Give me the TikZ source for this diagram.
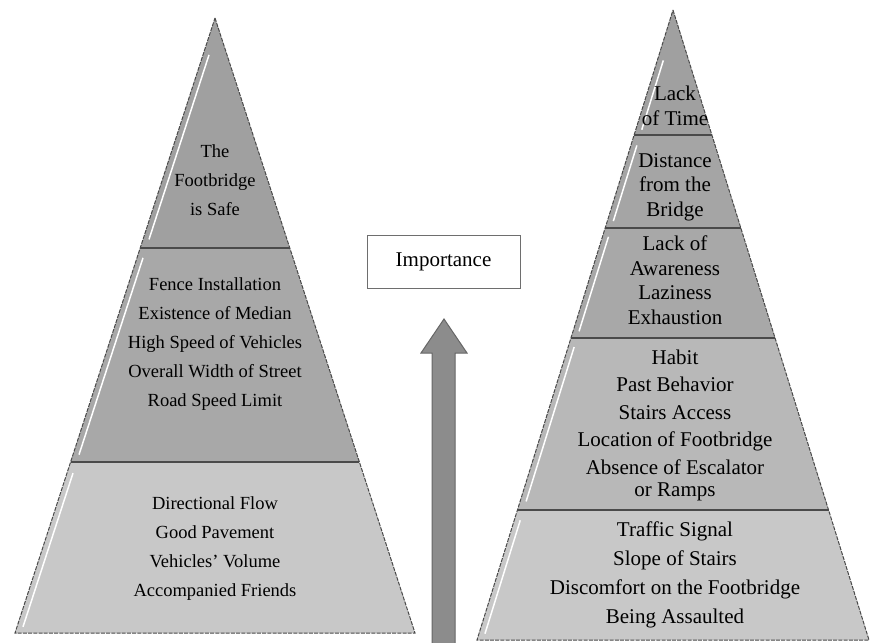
\documentclass[tikz,border=0pt]{standalone}
\usepackage{fontspec}
\setmainfont{Liberation Serif}
\usetikzlibrary{calc, positioning}

\definecolor{tierA}{HTML}{A0A0A0}
\definecolor{tierB}{HTML}{A8A8A8}
\definecolor{tierC}{HTML}{B8B8B8}
\definecolor{tierD}{HTML}{C8C8C8}
\definecolor{rim}{HTML}{4A4A4A}

\begin{document}
\begin{tikzpicture}[x=1pt, y=-1pt,
    tier/.style={draw=rim, line width=1pt, dash pattern=on 4pt off 1.2pt},
    divider/.style={draw=rim, line width=1.6pt},
    bevel/.style={white, line width=1.5pt},
    leftlab/.style={align=center, font=\fontsize{18.5}{29}\selectfont, inner sep=0pt},
    rightlab/.style={align=center, font=\fontsize{21}{24.5}\selectfont, inner sep=0pt}]
    \useasboundingbox (0,0) rectangle (871,643);

    % left pyramid
    \coordinate (la) at (215,18);
    \coordinate (lbl) at (15,633);
    \coordinate (lbr) at (415,633);
    \coordinate (l1l) at ($(la)!0.374!(lbl)$);
    \coordinate (l1r) at ($(la)!0.374!(lbr)$);
    \coordinate (l2l) at ($(la)!0.722!(lbl)$);
    \coordinate (l2r) at ($(la)!0.722!(lbr)$);
    \fill[tierA] (la) -- (l1r) -- (l1l) -- cycle;
    \fill[tierB] (l1l) -- (l1r) -- (l2r) -- (l2l) -- cycle;
    \fill[tierD] (l2l) -- (l2r) -- (lbr) -- (lbl) -- cycle;
    \draw[bevel] ($(la)!0.06!(lbl)+(6,0)$) -- ($(la)!0.36!(lbl)+(6,0)$);
    \draw[bevel] ($(la)!0.39!(lbl)+(6,0)$) -- ($(la)!0.71!(lbl)+(6,0)$);
    \draw[bevel] ($(la)!0.74!(lbl)+(6,0)$) -- ($(la)!0.99!(lbl)+(6,0)$);
    \draw[tier] (la) -- (lbr) -- (lbl) -- cycle;
    \draw[divider] (l1l) -- (l1r);
    \draw[divider] (l2l) -- (l2r);

    \node[leftlab] (safe) at (215,180) {The\\Footbridge\\is Safe};
    \node[leftlab] (street) at (215,344) {Fence Installation\\Existence of Median\\High Speed of Vehicles\\Overall Width of Street\\Road Speed Limit};
    \node[leftlab] (flow) at (215,549) {Directional Flow\\Good Pavement\\Vehicles’ Volume\\Accompanied Friends};

    % right pyramid
    \coordinate (ra) at (673,10);
    \coordinate (rbl) at (477,640);
    \coordinate (rbr) at (869,640);
    \foreach \n/\t in {1/0.198, 2/0.346, 3/0.521, 4/0.794} {
        \coordinate (r\n l) at ($(ra)!\t!(rbl)$);
        \coordinate (r\n r) at ($(ra)!\t!(rbr)$);
    }
    \fill[tierA] (ra) -- (r1r) -- (r1l) -- cycle;
    \fill[tierA!95!white] (r1l) -- (r1r) -- (r2r) -- (r2l) -- cycle;
    \fill[tierB] (r2l) -- (r2r) -- (r3r) -- (r3l) -- cycle;
    \fill[tierC] (r3l) -- (r3r) -- (r4r) -- (r4l) -- cycle;
    \fill[tierD] (r4l) -- (r4r) -- (rbr) -- (rbl) -- cycle;
    \draw[bevel] ($(ra)!0.08!(rbl)+(6,0)$) -- ($(ra)!0.19!(rbl)+(6,0)$);
    \draw[bevel] ($(ra)!0.215!(rbl)+(6,0)$) -- ($(ra)!0.335!(rbl)+(6,0)$);
    \draw[bevel] ($(ra)!0.36!(rbl)+(6,0)$) -- ($(ra)!0.51!(rbl)+(6,0)$);
    \draw[bevel] ($(ra)!0.535!(rbl)+(6,0)$) -- ($(ra)!0.78!(rbl)+(6,0)$);
    \draw[bevel] ($(ra)!0.81!(rbl)+(6,0)$) -- ($(ra)!0.99!(rbl)+(6,0)$);
    \draw[tier] (ra) -- (rbr) -- (rbl) -- cycle;
    \foreach \n in {1,...,4}
        \draw[divider] (r\n l) -- (r\n r);

    \node[rightlab] (time) at (675,106) {Lack\\of Time};
    \node[rightlab] (dist) at (675,187) {Distance\\from the\\Bridge};
    \node[rightlab] (aware) at (675,280) {Lack of\\Awareness\\Laziness\\Exhaustion};
    \node[rightlab, font=\fontsize{21}{27.6}\selectfont] (habit) at (675,425) {Habit\\Past Behavior\\Stairs Access\\Location of Footbridge\\Absence of Escalator\\[-6pt]or Ramps};
    \node[rightlab, font=\fontsize{21}{29}\selectfont] (signal) at (675,575) {Traffic Signal\\Slope of Stairs\\Discomfort on the Footbridge\\Being Assaulted};

    % importance
    \node[draw=rim!80, line width=0.9pt, minimum width=153pt, minimum height=53pt,
          font=\fontsize{21}{24}\selectfont] (imp) at (443.5,261.5) {Importance};
    \draw[fill=black!45, draw=black!60, line width=1pt]
        (432,643) -- (432,353) -- (421,353) -- (444,319) -- (467,353) -- (455,353) -- (455,643);
\end{tikzpicture}
\end{document}
